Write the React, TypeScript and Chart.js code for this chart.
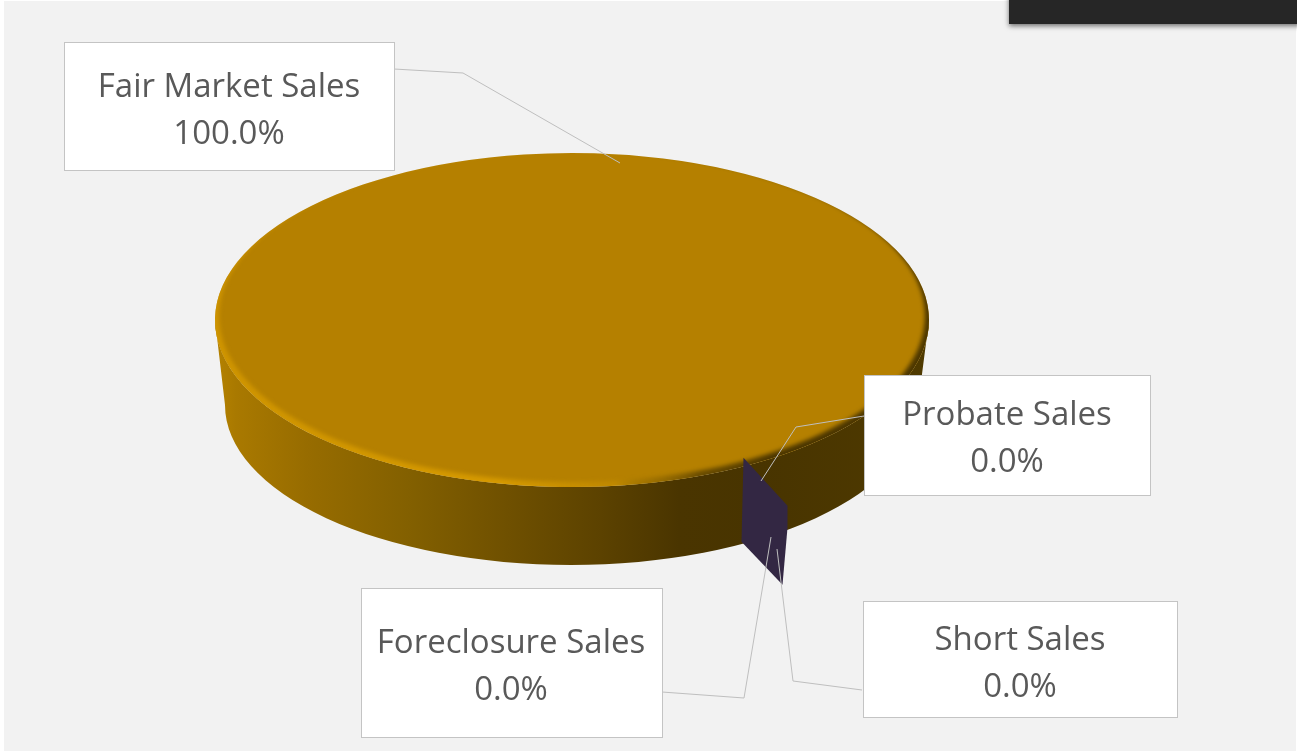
import { useEffect, useRef } from "react";
import { Chart, registerables } from "chart.js";

Chart.register(...registerables);

const categories = ["Fair Market Sales", "Probate Sales", "Foreclosure Sales", "Short Sales"];
const shareValues = [100, 0, 0, 0];
const sliceColors = ["#b58000", "#3f3151", "#5a4a78", "#332743"];

const W = 1297;
const H = 751;
const FONT = '33px "Open Sans"';

// Layout of callouts (one per category)
const calloutBoxes = [
  { x: 64, y: 42, w: 330, h: 128, tx: 229, y1: 88, y2: 135 },
  { x: 864, y: 375, w: 286, h: 120, tx: 1007, y1: 416, y2: 463 },
  { x: 361, y: 588, w: 301, h: 149, tx: 511, y1: 644, y2: 691 },
  { x: 863, y: 601, w: 314, h: 116, tx: 1020, y1: 641, y2: 688 },
];
const calloutLeaders = [
  [[394, 69], [463, 73], [620, 163]],
  [[864, 416], [796, 427], [761, 481]],
  [[662, 692], [744, 698], [771, 537]],
  [[862, 690], [793, 681], [777, 549]],
];

// Projection of the disc
const RX = 357;
const RY = 167;
const BASE_RX = 346;
const BASE_RY = 160;
const BASE_DY = 85;

const pie3d = {
  id: "pie3d",
  beforeDraw(chart: any) {
    const { ctx } = chart;
    ctx.save();
    ctx.fillStyle = "#ffffff";
    ctx.fillRect(0, 0, W, H);
    ctx.fillStyle = "#f2f2f2";
    ctx.fillRect(4, 1, W - 5, H - 1);
    ctx.shadowColor = "rgba(0,0,0,0.55)";
    ctx.shadowBlur = 5;
    ctx.shadowOffsetY = 2;
    ctx.fillStyle = "#262626";
    ctx.fillRect(1009, -10, W - 1009 + 10, 34);
    ctx.restore();
  },
  beforeDatasetsDraw(chart: any) {
    const { ctx } = chart;
    const arc = chart.getDatasetMeta(0).data[0];
    const cx = arc.x;
    const cy = arc.y;
    const r = arc.outerRadius;
    // extruded side
    ctx.save();
    const g = ctx.createLinearGradient(cx - RX, 0, cx + RX, 0);
    g.addColorStop(0, "#b58200");
    g.addColorStop(0.03, "#a97900");
    g.addColorStop(0.13, "#976c00");
    g.addColorStop(0.27, "#836000");
    g.addColorStop(0.41, "#6f5000");
    g.addColorStop(0.54, "#5c4200");
    g.addColorStop(0.65, "#4a3500");
    g.addColorStop(0.76, "#483400");
    g.addColorStop(1, "#4f3a00");
    ctx.fillStyle = g;
    ctx.beginPath();
    ctx.ellipse(cx, cy, RX, RY, 0, Math.PI, 0, true);
    ctx.lineTo(cx + BASE_RX, cy + BASE_DY);
    ctx.ellipse(cx - 1, cy + BASE_DY, BASE_RX, BASE_RY, 0, 0, Math.PI, false);
    ctx.closePath();
    ctx.fill();
    ctx.restore();
    // flatten the pie to the disc's perspective
    ctx.save();
    ctx.translate(cx, cy);
    ctx.scale(RX / r, RY / r);
    ctx.translate(-cx, -cy);
  },
  afterDatasetsDraw(chart: any) {
    const { ctx } = chart;
    ctx.restore();
    const meta = chart.getDatasetMeta(0);
    const arc = meta.data[0];
    const cx = arc.x;
    const cy = arc.y;

    // bevel on the rim
    ctx.save();
    ctx.beginPath();
    ctx.ellipse(cx, cy, RX, RY, 0, 0, Math.PI * 2);
    ctx.clip();
    const b = ctx.createLinearGradient(cx - RX, 0, cx + RX, 0);
    b.addColorStop(0, "rgba(215,155,0,0.75)");
    b.addColorStop(0.4, "rgba(222,160,0,0.8)");
    b.addColorStop(0.56, "rgba(205,148,0,0.45)");
    b.addColorStop(0.6, "rgba(130,95,0,0.35)");
    b.addColorStop(0.68, "rgba(80,58,0,0.75)");
    b.addColorStop(0.78, "rgba(70,50,0,0.95)");
    b.addColorStop(1, "rgba(70,50,0,0.95)");
    ctx.filter = "blur(2px)";
    ctx.fillStyle = b;
    ctx.beginPath();
    ctx.rect(0, 0, W, H);
    ctx.ellipse(cx, cy - 4, RX - 4, RY - 1, 0, 0, Math.PI * 2);
    ctx.fill("evenodd");
    ctx.restore();

    // cut face of the empty slices, anchored at the slice boundary
    const a = arc.startAngle;
    const px = cx + 0.955 * RX * Math.cos(a);
    const py = cy + 0.955 * RY * Math.sin(a);
    ctx.save();
    ctx.fillStyle = "#332743";
    ctx.beginPath();
    ctx.moveTo(px, py);
    ctx.lineTo(px + 44, py + 48);
    ctx.lineTo(px + 44, py + 70);
    ctx.lineTo(px + 39, py + 127);
    ctx.lineTo(px - 2, py + 84);
    ctx.closePath();
    ctx.fill();
    ctx.restore();

    // callouts
    ctx.save();
    const labels = chart.data.labels;
    const vals = chart.data.datasets[0].data;
    const total = vals.reduce((s: number, v: number) => s + v, 0);
    ctx.strokeStyle = "#bfbfbf";
    ctx.lineWidth = 1;
    calloutLeaders.forEach((pts) => {
      ctx.beginPath();
      pts.forEach(([x, y], i) => (i ? ctx.lineTo(x, y) : ctx.moveTo(x, y)));
      ctx.stroke();
    });
    ctx.font = FONT;
    ctx.textAlign = "center";
    ctx.textBaseline = "middle";
    labels.forEach((label: string, i: number) => {
      const c = calloutBoxes[i];
      ctx.fillStyle = "#ffffff";
      ctx.fillRect(c.x, c.y, c.w, c.h);
      ctx.strokeStyle = "#c4c4c4";
      ctx.strokeRect(c.x + 0.5, c.y + 0.5, c.w, c.h);
      ctx.fillStyle = "#595959";
      ctx.fillText(label, c.tx, c.y1);
      ctx.fillText(((vals[i] / total) * 100).toFixed(1) + "%", c.tx, c.y2);
    });
    ctx.restore();
  },
};

export default function App() {
  const ref = useRef<HTMLCanvasElement>(null);
  useEffect(() => {
    const chart = new Chart(ref.current!, {
      type: "pie",
      data: {
        labels: categories,
        datasets: [{ data: shareValues, backgroundColor: sliceColors, borderWidth: 0 }],
      },
      options: {
        animation: false,
        responsive: false,
        rotation: 149.8,
        layout: { padding: { left: 272, right: 425, top: 20, bottom: 131 } },
        plugins: { legend: { display: false }, tooltip: { enabled: false } },
      },
      plugins: [pie3d],
    });
    return () => chart.destroy();
  }, []);
  return (
    <canvas
      ref={ref}
      width={W}
      height={H}
      style={{ position: "absolute", left: 0, top: 0, display: "block", width: W, height: H }}
    />
  );
}
